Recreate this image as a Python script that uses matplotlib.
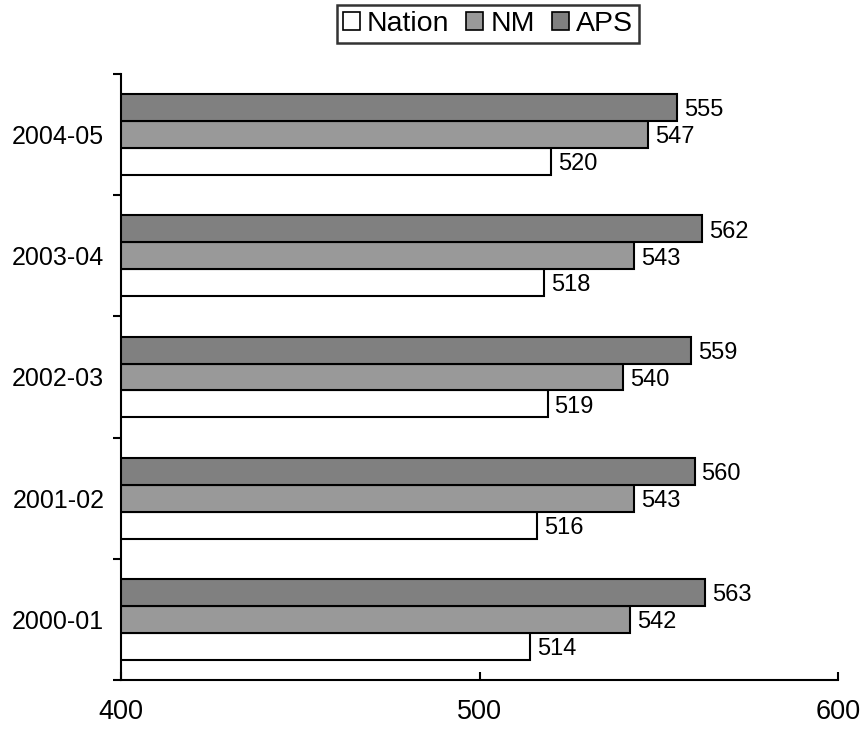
import numpy as np
import matplotlib
matplotlib.use("Agg")
import matplotlib.pyplot as plt
from matplotlib.patches import Patch

plt.rcParams["font.family"] = ["Liberation Sans", "DejaVu Sans"]

annees = ["2000-01", "2001-02", "2002-03", "2003-04", "2004-05"]
nation = [514, 516, 519, 518, 520]
nm = [542, 543, 540, 543, 547]
aps = [563, 560, 559, 562, 555]

series = [
    ("Nation", nation, "#ffffff"),
    ("NM", nm, "#999999"),
    ("APS", aps, "#808080"),
]

fig = plt.figure(figsize=(8.62, 7.34), dpi=100)
ax = fig.add_axes([0.1404, 0.0736, 0.8318, 0.8256])

y = np.arange(len(annees))
h = 0.222
decalages = [-h, 0, h]

for (nom, valeurs, couleur), d in zip(series, decalages):
    ax.barh(y + d, valeurs, height=h, left=0, color=couleur,
            edgecolor="black", linewidth=1.5, label=nom)
    for yy, v in zip(y + d, valeurs):
        ax.annotate(str(v), (v, yy), xytext=(5, -2), textcoords="offset points",
                    ha="left", va="center", fontsize=17)

ax.set_xlim(400, 600)
ax.set_ylim(-0.5, len(annees) - 0.5)
ax.set_xticks([400, 500, 600])
ax.tick_params(axis="x", direction="in", length=6, width=1.5, labelsize=19.5, pad=14)

ax.set_yticks(y)
ax.set_yticklabels(annees)
ax.tick_params(axis="y", which="major", length=0, labelsize=18, pad=12)
ax.set_yticks(np.arange(len(annees) + 1) - 0.5, minor=True)
ax.tick_params(axis="y", which="minor", direction="out", length=6, width=1.5)

for cote in ["top", "right"]:
    ax.spines[cote].set_visible(False)
for cote in ["left", "bottom"]:
    ax.spines[cote].set_linewidth(1.5)

poignees = [Patch(facecolor=c, edgecolor="black", linewidth=1.2, label=n)
            for n, _, c in series]
leg = fig.legend(handles=poignees, loc="center", bbox_to_anchor=(488 / 862, 1 - 24 / 734),
                 ncol=3, fontsize=20.5, frameon=True, fancybox=False,
                 handlelength=0.6, handleheight=0.6, handletextpad=0.25,
                 columnspacing=0.6, borderpad=0.2, borderaxespad=0)
leg.get_frame().set_edgecolor("black")
leg.get_frame().set_linewidth(1.8)

fig.savefig("out.png", dpi=100)
